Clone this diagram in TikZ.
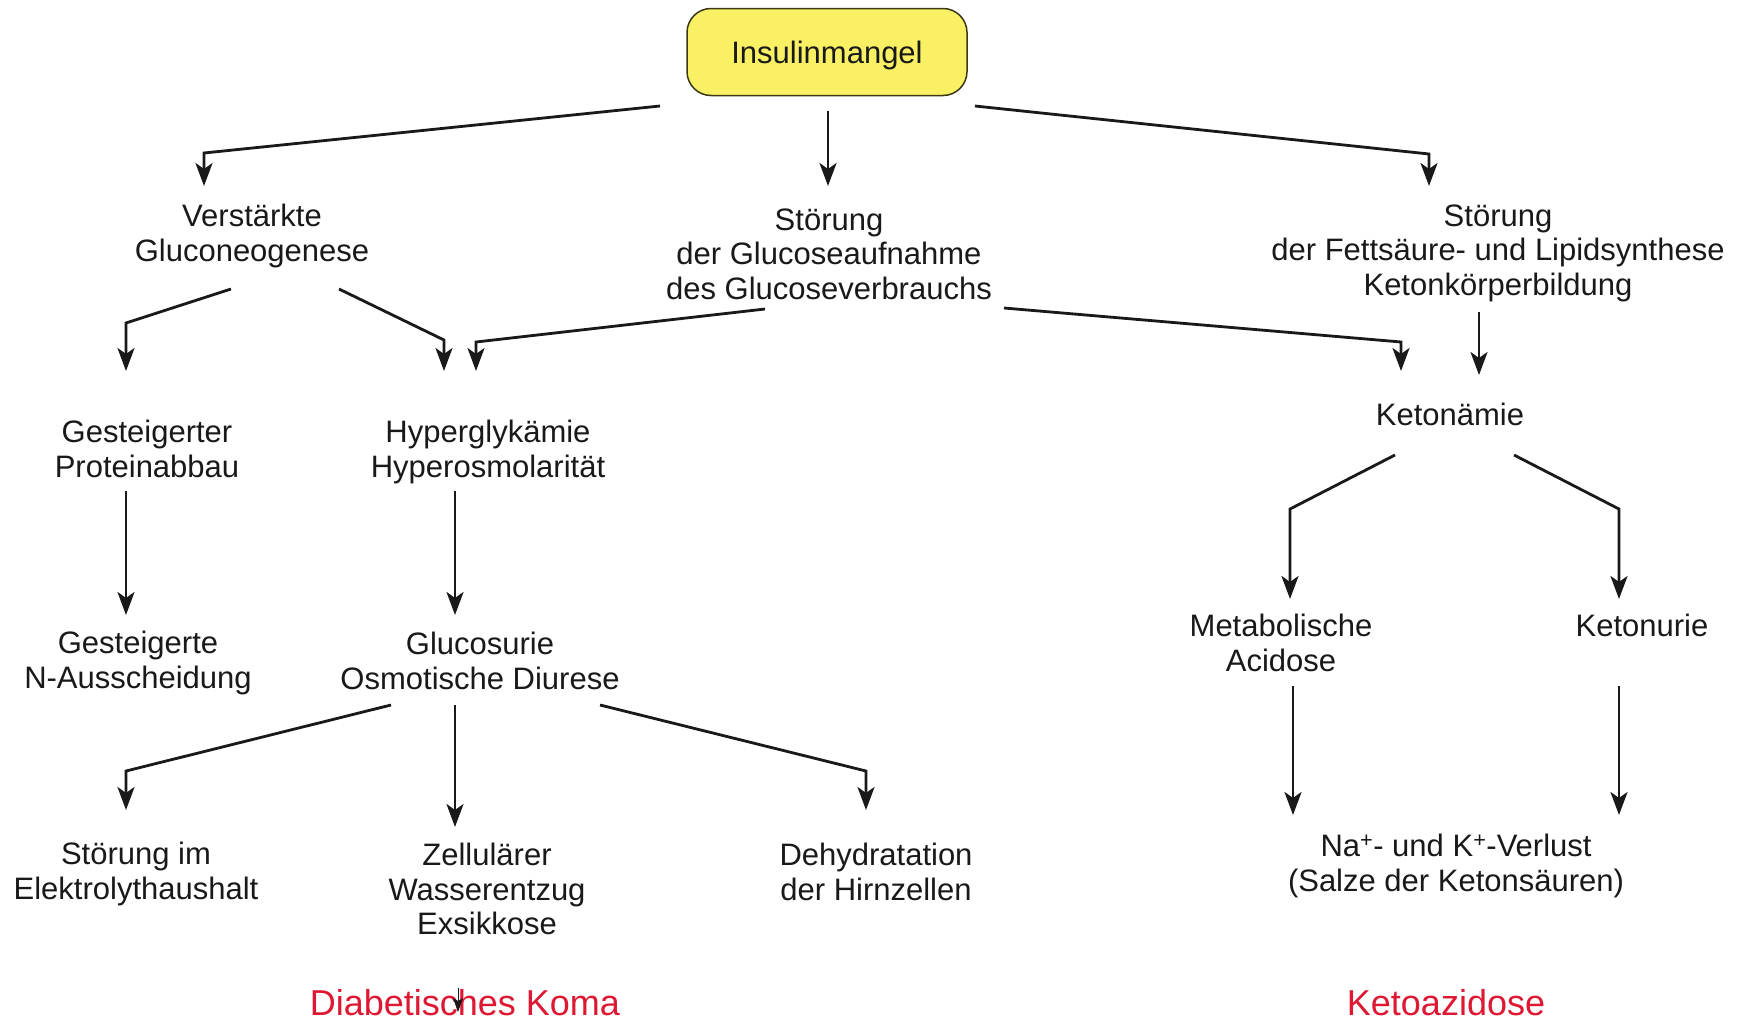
\documentclass[tikz,border=0pt]{standalone}
\usepackage{fontspec}
\setmainfont{Liberation Sans}
\usetikzlibrary{arrows.meta}
\definecolor{boxfill}{RGB}{250,240,100}
\definecolor{boxline}{RGB}{60,55,20}
\definecolor{ink}{RGB}{25,25,25}
\definecolor{alarm}{RGB}{222,24,50}
\begin{document}
\begin{tikzpicture}[x=1pt,y=-1pt,
  every node/.style={inner sep=0pt,outer sep=0pt,align=center,text=ink,
    font=\fontsize{31}{34.6}\selectfont},
  topbox/.style={draw=boxline,line width=1.5pt,fill=boxfill,rounded corners=24pt,
    minimum width=280pt,minimum height=87pt,text depth=0pt},
  label/.style={},
  result/.style={text=alarm,font=\fontsize{36}{40}\selectfont},
  arr/.style={draw=ink,line width=2.8pt,
    -{Stealth[length=23pt,width=17pt,inset=6pt]}},
  tinyarr/.style={draw=ink,line width=0.7pt,
    -{Stealth[length=14pt,width=10pt,inset=3pt]}}]
\useasboundingbox (0,0) rectangle (1748,1020);
\fill[white] (0,0) rectangle (1748,1020);

% nodes
\node[topbox] (ins) at (827,52) {Insulinmangel};
\node[label] (gng) at (252,236) {Verstärkte\\Gluconeogenese};
\node[label] (sgl) at (829,254) {Störung\\der Glucoseaufnahme\\des Glucoseverbrauchs};
\node[label] (sfl) at (1498,253) {Störung\\der Fettsäure- und Lipidsynthese\\Ketonkörperbildung};
\node[label] (prot) at (147,449) {Gesteigerter\\Proteinabbau};
\node[label] (hyp) at (488,452) {Hyperglykämie\\Hyperosmolarität};
\node[label] (ket) at (1450,414) {Ketonämie};
\node[label] (naus) at (138,663) {Gesteigerte\\N-Ausscheidung};
\node[label] (gos) at (480,661) {Glucosurie\\Osmotische Diurese};
\node[label] (meta) at (1281,643) {Metabolische\\Acidose};
\node[label] (keto) at (1642,625) {Ketonurie};
\node[label] (elek) at (136,874) {Störung im\\Elektrolythaushalt};
\node[label] (zell) at (487,889) {Zellulärer\\Wasserentzug\\Exsikkose};
\node[label] (dehy) at (876,872) {Dehydratation\\der Hirnzellen};
\node[label] (nak) at (1456,866) {Na\textsuperscript{+}- und K\textsuperscript{+}-Verlust\\(Salze der Ketonsäuren)};
\node[result] (koma) at (465,1003) {Diabetisches Koma};
\node[result] (ketoaz) at (1446,1003) {Ketoazidose};

% level 1
\draw[arr] ([shift={(-167,54)}]ins.center) -- ([shift={(-48,-83)}]gng.center) -- ([shift={(-48,-50)}]gng.center);
\draw[arr] ([shift={(1,59)}]ins.center) -- ([shift={(-1,-68)}]sgl.center);
\draw[arr] ([shift={(148,54)}]ins.center) -- ([shift={(-69,-99)}]sfl.center) -- ([shift={(-69,-67)}]sfl.center);

% level 2
\draw[arr] ([shift={(-21,53)}]gng.center) -- ([shift={(-21,-126)}]prot.center) -- ([shift={(-21,-78)}]prot.center);
\draw[arr] ([shift={(87,53)}]gng.center) -- ([shift={(-44,-112)}]hyp.center) -- ([shift={(-44,-81)}]hyp.center);
\draw[arr] ([shift={(-64,55)}]sgl.center) -- ([shift={(-12,-110)}]hyp.center) -- ([shift={(-12,-81)}]hyp.center);
\draw[arr] ([shift={(175,54)}]sgl.center) -- ([shift={(-49,-72)}]ket.center) -- ([shift={(-49,-43)}]ket.center);
\draw[arr] ([shift={(-19,59)}]sfl.center) -- ([shift={(29,-39)}]ket.center);

% level 3
\draw[arr] ([shift={(-21,42)}]prot.center) -- ([shift={(-12,-48)}]naus.center);
\draw[arr] ([shift={(-33,39)}]hyp.center) -- ([shift={(-25,-46)}]gos.center);
\draw[arr] ([shift={(-55,41)}]ket.center) -- ([shift={(9,-134)}]meta.center) -- ([shift={(9,-44)}]meta.center);
\draw[arr] ([shift={(64,41)}]ket.center) -- ([shift={(-23,-116)}]keto.center) -- ([shift={(-23,-26)}]keto.center);

% level 4
\draw[arr] ([shift={(-89,44)}]gos.center) -- ([shift={(-10,-103)}]elek.center) -- ([shift={(-10,-64)}]elek.center);
\draw[arr] ([shift={(-25,44)}]gos.center) -- ([shift={(-32,-62)}]zell.center);
\draw[arr] ([shift={(120,44)}]gos.center) -- ([shift={(-10,-101)}]dehy.center) -- ([shift={(-10,-62)}]dehy.center);
\draw[arr] ([shift={(12,43)}]meta.center) -- ([shift={(-163,-51)}]nak.center);
\draw[arr] ([shift={(-23,61)}]keto.center) -- ([shift={(163,-51)}]nak.center);

% small pointer inside the coma label
\draw[tinyarr] ([shift={(-7,-15)}]koma.center) -- ([shift={(-7,9)}]koma.center);
\end{tikzpicture}
\end{document}
